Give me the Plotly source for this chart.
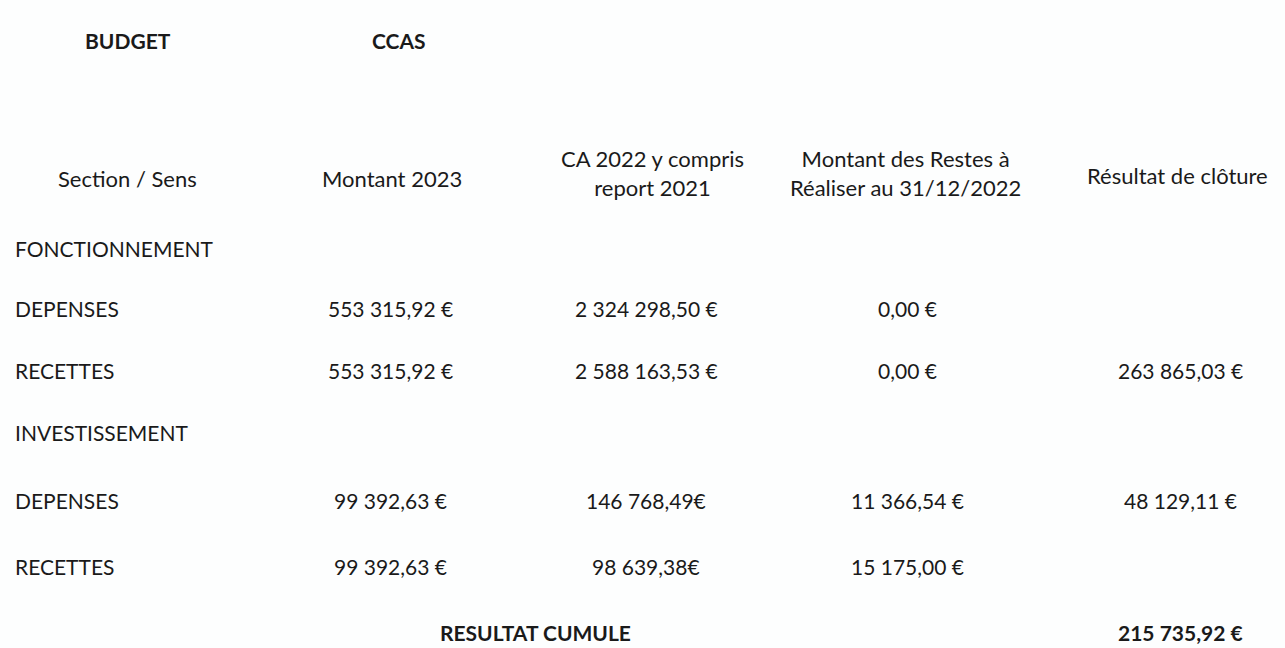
import plotly.graph_objects as go

# --- données du tableau ---
TITRE = ["BUDGET", "CCAS"]
ENTETES = [
    "Section / Sens",
    "Montant 2023",
    "CA 2022 y compris<br>report 2021",
    "Montant des Restes à<br>Réaliser au 31/12/2022",
    "Résultat de clôture",
]
LIGNES = ["FONCTIONNEMENT", "DEPENSES", "RECETTES", "INVESTISSEMENT", "DEPENSES", "RECETTES"]
MONTANT_2023 = ["", "553 315,92 €", "553 315,92 €", "", "99 392,63 €", "99 392,63 €"]
CA_2022 = ["", "2 324 298,50 €", "2 588 163,53 €", "", "146 768,49€", "98 639,38€"]
RESTES = ["", "0,00 €", "0,00 €", "", "11 366,54 €", "15 175,00 €"]
RESULTAT = ["", "", "263 865,03 €", "", "48 129,11 €", ""]
TOTAL_LIBELLE = "RESULTAT CUMULE"
TOTAL = "215 735,92 €"

# --- mise en page (positions en pixels de la page) ---
W, H = 1285, 648
POLICE = "Lato"
TAILLE = 21
COL_ENTETE = [127, 392, 652, 905, 1177]
COL_VALEUR = [13, 390, 646, 907, 1180]
Y_ENTETE = [178, 178, 173, 173, 175]
Y_LIGNES = [248, 308, 370, 432, 500, 566]
Y_TOTAL = 632

fig = go.Figure()
ann = []


def texte(x, y, t, gras=False, ancre="center", taille=TAILLE):
    ann.append(dict(
        x=x, y=y, text=f"<b>{t}</b>" if gras else t, xref="x", yref="y",
        xanchor=ancre, yanchor="middle", showarrow=False,
        font=dict(family=POLICE, size=taille, color="#1a1a1a"),
    ))


texte(128, 40, TITRE[0], gras=True)
texte(370, 40, TITRE[1], gras=True, ancre="left")

for x, y, t in zip(COL_ENTETE, Y_ENTETE, ENTETES):
    texte(x, y, t, taille=TAILLE + 1)

colonnes = [LIGNES, MONTANT_2023, CA_2022, RESTES, RESULTAT]
for i, (x, valeurs) in enumerate(zip(COL_VALEUR, colonnes)):
    for y, t in zip(Y_LIGNES, valeurs):
        if t:
            texte(x, y, t, ancre="left" if i == 0 else "center")

texte(535, Y_TOTAL, TOTAL_LIBELLE, gras=True)
texte(1180, Y_TOTAL, TOTAL, gras=True)

fig.update_layout(
    width=W, height=H,
    margin=dict(l=0, r=0, t=0, b=0),
    paper_bgcolor="#fdfefe", plot_bgcolor="#fdfefe",
    xaxis=dict(range=[0, W], visible=False, fixedrange=True),
    yaxis=dict(range=[H, 0], visible=False, fixedrange=True),
    annotations=ann,
    showlegend=False,
)
fig.write_html(
    "out.html",
    config={"displayModeBar": False},
    post_script="document.body.style.margin='0';document.body.style.overflow='hidden';",
)
